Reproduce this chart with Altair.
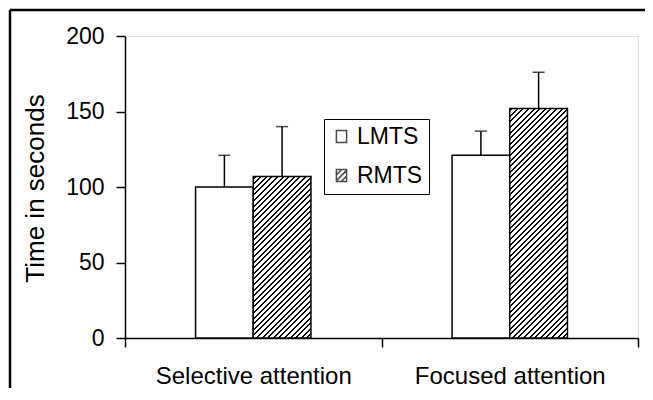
import altair as alt
import pandas as pd

# ---- data ----
categories = ["Selective attention", "Focused attention"]
series = ["LMTS", "RMTS"]
lmts_values = [100, 121]
rmts_values = [107, 152]
lmts_upper = [121, 137]
rmts_upper = [140, 176]
y_ticks = [0, 50, 100, 150, 200]

rows = []
for i, c in enumerate(categories):
    rows.append({"category": c, "series": "LMTS", "value": lmts_values[i], "upper": lmts_upper[i]})
    rows.append({"category": c, "series": "RMTS", "value": rmts_values[i], "upper": rmts_upper[i]})
df = pd.DataFrame(rows)

# ---- layout / style ----
PLOT_W, PLOT_H = 513, 302
Y_MAX = 200
OFF_PAD = 0.223
FONT = "Liberation Sans"
# empty slots either side of each pair of bars (pure spacing)
offset_domain = ["_gap_l"] + series + ["_gap_r"]

bar_w = (PLOT_W / len(categories)) / (len(offset_domain) + 2 * OFF_PAD)


def hatch(value):
    """Diagonal hatching as a hard-stop linear gradient (bounding-box units)."""
    h = value / Y_MAX * PLOT_H
    w = bar_w
    a = w * (w + h) / (w * w + h * h)
    total = w + h
    period, dark = 5.6, 1.9
    stops = [{"offset": 0, "color": "white"}]
    c = 1.5
    while c + dark < total:
        o1, o2 = c / total, (c + dark) / total
        stops += [
            {"offset": o1, "color": "white"},
            {"offset": o1, "color": "black"},
            {"offset": o2, "color": "black"},
            {"offset": o2, "color": "white"},
        ]
        c += period
    stops.append({"offset": 1, "color": "white"})
    return {"gradient": "linear", "x1": 0, "y1": 0, "x2": a, "y2": a * h / w, "stops": stops}


x_enc = alt.X(
    "category:N",
    sort=categories,
    scale=alt.Scale(domain=categories, paddingInner=0, paddingOuter=0),
    axis=alt.Axis(
        title=None, labelAngle=0, tickBand="extent", tickSize=9, tickWidth=1.5,
        tickColor="black", domainColor="black", domainWidth=1.5, labelLimit=0,
        labelFontSize=24, labelFont=FONT, labelColor="black", labelPadding=17,
    ),
)
xo_enc = alt.XOffset("series:N", scale=alt.Scale(domain=offset_domain, paddingInner=0, paddingOuter=OFF_PAD))
y_enc = alt.Y(
    "value:Q",
    scale=alt.Scale(domain=[0, Y_MAX]),
    axis=alt.Axis(
        values=y_ticks, title="Time in seconds", grid=False, tickSize=9, tickWidth=1.5,
        tickColor="black", domainColor="black", domainWidth=1.5,
        labelFontSize=23, labelFont=FONT, labelColor="black", labelPadding=12, labelFlush=False,
        titleFontSize=26, titleFont=FONT, titleFontWeight="normal", titleColor="black",
        titleX=-82, titleY=152, titleAngle=270, titleBaseline="alphabetic", titleAlign="center",
    ),
)

base = alt.Chart(df)

lmts_bars = base.transform_filter(alt.datum.series == "LMTS").mark_bar(
    fill="white", stroke="black", strokeWidth=1.5
).encode(x=x_enc, xOffset=xo_enc, y=y_enc)

rmts_layers = []
for i, c in enumerate(categories):
    rmts_layers.append(
        base.transform_filter((alt.datum.series == "RMTS") & (alt.datum.category == c))
        .mark_bar(fill=hatch(rmts_values[i]), stroke="black", strokeWidth=1.5)
        .encode(x=x_enc, xOffset=xo_enc, y=y_enc)
    )

err_rule = base.mark_rule(color="black", strokeWidth=1.5).encode(
    x=x_enc, xOffset=xo_enc, y="value:Q", y2="upper:Q"
)
err_cap = base.mark_tick(color="black", size=12, thickness=1.5).encode(
    x=x_enc, xOffset=xo_enc, y="upper:Q"
)

box_path = "M-0.85,-1H0.85V1H-0.85Z"
hatch_path = "M-0.85,-1H0.85V1H-0.85Z M-0.85,-0.1L0.05,-1 M-0.85,0.85L0.85,-0.85 M-0.05,1L0.85,0.1"

legend_layer = base.transform_filter("false").mark_point(
    filled=False, color="black", strokeWidth=1.5
).encode(
    x=x_enc, xOffset=xo_enc, y=y_enc,
    shape=alt.Shape(
        "series:N",
        scale=alt.Scale(domain=series, range=[box_path, hatch_path]),
        legend=alt.Legend(
            title=None, orient="none", legendX=199, legendY=83,
            strokeColor="black", fillColor="white", padding=6, rowPadding=15,
            labelFontSize=23, labelFont=FONT, labelColor="black", labelOffset=4,
            symbolSize=144, symbolStrokeWidth=1.5, symbolStrokeColor="black",
        ),
    ),
)

one = alt.Data(values=[{"k": 1}])
top_border = alt.Chart(one).mark_rule(color="black", strokeWidth=2.5).encode(
    x=alt.value(-115), x2=alt.value(520), y=alt.value(-26)
)
left_border = alt.Chart(one).mark_rule(color="black", strokeWidth=2.5).encode(
    x=alt.value(-115), y=alt.value(-26), y2=alt.value(352)
)

chart = (
    alt.layer(lmts_bars, *rmts_layers, err_rule, err_cap, legend_layer, top_border, left_border)
    .properties(
        width=PLOT_W, height=PLOT_H,
        padding={"left": 117, "top": 28, "right": 7, "bottom": 50},
        autosize=alt.AutoSizeParams(type="none"),
    )
    .configure_view(stroke="#888", strokeWidth=1.5)
    .configure(font=FONT)
)

chart.save("out.html", embed_options={"renderer": "svg", "actions": False})
